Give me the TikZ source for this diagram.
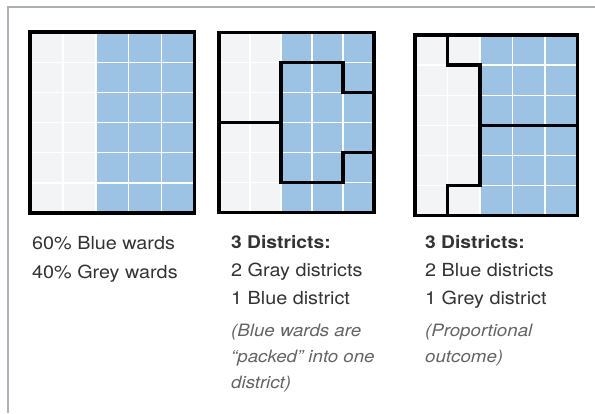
\documentclass[tikz,border=0pt]{standalone}
\usepackage{fontspec}
\setmainfont{TeX Gyre Heros}[FakeStretch=1.1]
\definecolor{greycell}{RGB}{243,244,246}
\definecolor{bluecell}{RGB}{157,195,228}
\definecolor{framegrey}{RGB}{170,176,182}
\definecolor{txt}{RGB}{51,51,51}
\definecolor{notetxt}{RGB}{100,100,100}
\tikzset{
  wardline/.style={white, line width=1.3pt},
  border/.style={black, line width=3.3pt, line join=miter, line cap=rect},
  frameline/.style={framegrey, line width=2pt},
  label/.style={anchor=base west, inner sep=0pt, text=txt, font=\fontsize{18}{20}\selectfont},
  boldlabel/.style={label, font=\fontsize{17.5}{20}\selectfont\bfseries},
  note/.style={anchor=base west, inner sep=0pt, text=notetxt, font=\fontsize{17}{20}\selectfont\itshape},
}
\begin{document}
\begin{tikzpicture}[x=1pt,y=-1pt]
\useasboundingbox (0,0) rectangle (595,413);
\fill[white] (0,0) rectangle (595,413);
\draw[frameline] (8,413) -- (8,7) -- (595,7);

% grid 1
\begin{scope}[shift={(30pt,-32pt)}, x=32.94pt, y=-30.17pt]
  \fill[greycell] (0,0) rectangle (2,6);
  \fill[bluecell] (2,0) rectangle (5,6);
  \foreach \i in {1,...,4} \draw[wardline] (\i,0) -- (\i,6);
  \foreach \j in {1,...,5} \draw[wardline] (0,\j) -- (5,\j);
  \draw[border] (0,0) rectangle (5,6);
\end{scope}

% grid 2
\begin{scope}[shift={(219pt,-32.3pt)}, x=31pt, y=-30.03pt]
  \fill[greycell] (0,0) rectangle (2,6);
  \fill[bluecell] (2,0) rectangle (5,6);
  \foreach \i in {1,...,4} \draw[wardline] (\i,0) -- (\i,6);
  \foreach \j in {1,...,5} \draw[wardline] (0,\j) -- (5,\j);
  \draw[border] (0,0) rectangle (5,6);
  \draw[border] (5,2) -- (4,2) -- (4,1) -- (2,1) -- (2,5) -- (4,5) -- (4,4) -- (5,4);
  \draw[border] (0,3) -- (2,3);
\end{scope}

% grid 3
\begin{scope}[shift={(415pt,-35pt)}, x=32.5pt, y=-30.08pt]
  \fill[greycell] (0,0) rectangle (2,6);
  \fill[bluecell] (2,0) rectangle (5,6);
  \foreach \i in {1,...,4} \draw[wardline] (\i,0) -- (\i,6);
  \foreach \j in {1,...,5} \draw[wardline] (0,\j) -- (5,\j);
  \draw[border] (0,0) rectangle (5,6);
  \draw[border] (1,0) -- (1,1) -- (2,1) -- (2,5) -- (1,5) -- (1,6);
  \draw[border] (2,3) -- (5,3);
\end{scope}

% texts column 1
\node[label] (a1) at (32,249) {60\% Blue wards};
\node[label] (a2) at (32,278) {40\% Grey wards};

% column 2
\node[boldlabel] (b1) at (231,248) {3 Districts:};
\node[label] (b2) at (231,276.5) {2 Gray districts};
\node[label] (b3) at (231,304.5) {1 Blue district};
\node[note] (b4) at (231,336) {(Blue wards are};
\node[note] (b5) at (231,362) {“packed” into one};
\node[note] (b6) at (231,388) {district)};

% column 3
\node[boldlabel] (c1) at (425,248) {3 Districts:};
\node[label] (c2) at (425,276.5) {2 Blue districts};
\node[label] (c3) at (425,304.5) {1 Grey district};
\node[note] (c4) at (425,336) {(Proportional};
\node[note] (c5) at (425,362) {outcome)};
\end{tikzpicture}
\end{document}
